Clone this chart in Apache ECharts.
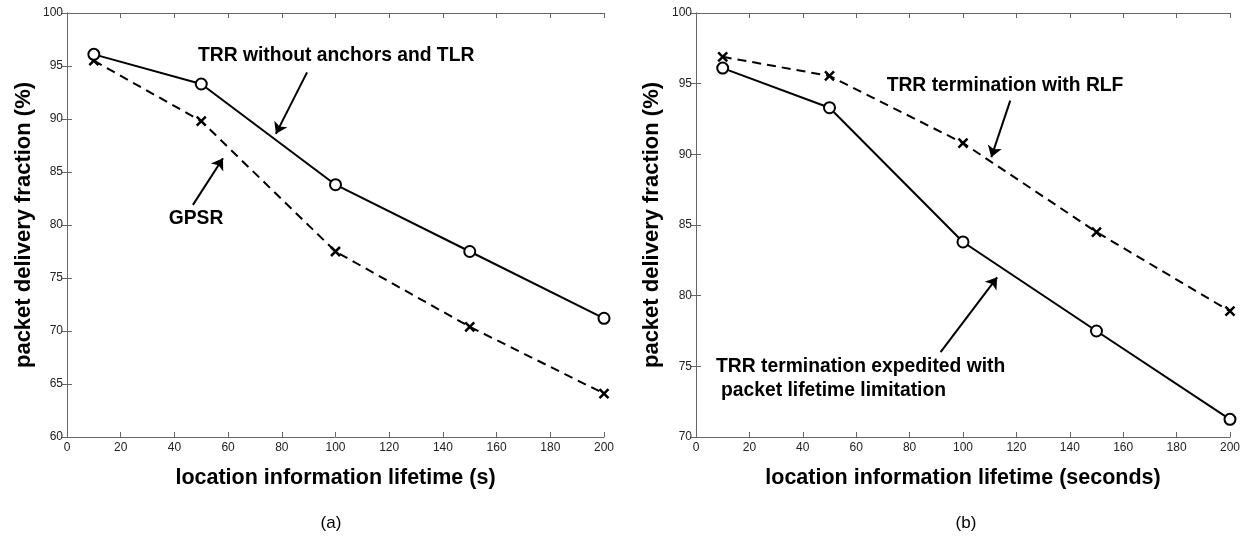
<!DOCTYPE html>
<html lang="en">
<head>
    <meta charset="UTF-8">
    <title>packet delivery fraction</title>
    <script src="https://cdn.jsdelivr.net/npm/echarts@6/dist/echarts.min.js"></script>
    <style>
        html, body { margin: 0; padding: 0; background: #fff; }
        #chart { width: 1243px; height: 539px; }
    </style>
</head>
<body>
<div id="chart"></div>
<script>
    // data
    var lifetimes = [10, 50, 100, 150, 200];
    var trrNoAnchors = [96.1, 93.3, 83.8, 77.5, 71.2];   // (a) solid, circles
    var gpsr = [95.5, 89.8, 77.5, 70.4, 64.1];           // (a) dashed, crosses
    var trrExpedited = [96.1, 93.3, 83.8, 77.5, 71.25];  // (b) solid, circles
    var trrRlf = [96.9, 95.55, 90.8, 84.5, 78.9];        // (b) dashed, crosses

    // annotation arrows, in data coordinates [from, to]
    var arrowsA = [[[89.4, 94.4], [77.8, 88.6]], [[46.9, 81.9], [58.1, 86.3]]];
    var arrowsB = [[[117.7, 93.8], [110.6, 89.8]], [[91.6, 76.0], [112.8, 81.3]]];

    var FONT = '"Liberation Sans", Arial, Helvetica, sans-serif';
    var crossPath = 'path://M0,0L10,10M10,0L0,10';

    function pairs(xs, ys) {
        return xs.map(function (x, i) { return [x, ys[i]]; });
    }

    function arrowLines(list) {
        return {
            silent: true,
            symbol: ['none', 'arrow'],
            symbolSize: 11,
            label: { show: false },
            lineStyle: { color: '#000', width: 2, type: 'solid' },
            data: list.map(function (a) {
                return [{ coord: a[0] }, { coord: a[1] }];
            })
        };
    }

    function xAxes(gridIndex, name) {
        return [
            {
                gridIndex: gridIndex, type: 'value', min: 0, max: 200, interval: 20,
                name: name, nameLocation: 'middle', nameGap: 30,
                nameTextStyle: { fontFamily: FONT, fontWeight: 'bold', fontSize: 21.5, color: '#000' },
                axisLine: { lineStyle: { color: '#666', width: 1 } },
                axisTick: { inside: true, length: 5, lineStyle: { color: '#666' } },
                axisLabel: { fontFamily: FONT, fontSize: 12, color: '#222', margin: 5 },
                splitLine: { show: false }
            },
            {
                gridIndex: gridIndex, type: 'value', position: 'top', min: 0, max: 200, interval: 20,
                axisLine: { lineStyle: { color: '#666', width: 1 } },
                axisTick: { inside: true, length: 5, lineStyle: { color: '#666' } },
                axisLabel: { show: false },
                splitLine: { show: false }
            }
        ];
    }

    function yAxes(gridIndex, min, gap) {
        return [
            {
                gridIndex: gridIndex, type: 'value', min: min, max: 100, interval: 5,
                name: 'packet delivery fraction (%)', nameLocation: 'middle', nameGap: gap,
                nameTextStyle: { fontFamily: FONT, fontWeight: 'bold', fontSize: 22, color: '#000' },
                axisLine: { show: true, lineStyle: { color: '#666', width: 1 } },
                axisTick: { show: true, inside: true, length: 5, lineStyle: { color: '#666' } },
                axisLabel: { fontFamily: FONT, fontSize: 12, color: '#222', margin: 4 },
                splitLine: { show: false }
            },
            {
                gridIndex: gridIndex, type: 'value', position: 'right', min: min, max: 100, interval: 5,
                axisLine: { show: true, lineStyle: { color: '#666', width: 1 } },
                axisTick: { show: true, inside: true, length: 5, lineStyle: { color: '#666' } },
                axisLabel: { show: false },
                splitLine: { show: false }
            }
        ];
    }

    function solid(xi, yi, ys, arrows) {
        return {
            type: 'line', xAxisIndex: xi, yAxisIndex: yi,
            data: pairs(lifetimes, ys),
            symbol: 'emptyCircle', symbolSize: 11, showAllSymbol: true,
            lineStyle: { color: '#000', width: 2, type: 'solid' },
            itemStyle: { color: '#000', borderColor: '#000', borderWidth: 2 },
            markLine: arrowLines(arrows),
            z: 3, animation: false
        };
    }

    function dashed(xi, yi, ys) {
        return {
            type: 'line', xAxisIndex: xi, yAxisIndex: yi,
            data: pairs(lifetimes, ys),
            symbol: crossPath, symbolSize: 9, showAllSymbol: true,
            lineStyle: { color: '#000', width: 2, type: [9, 6] },
            itemStyle: { color: '#000', borderColor: '#000', borderWidth: 2.5 },
            z: 2, animation: false
        };
    }

    function text(x, y, s, align, size, weight) {
        return {
            type: 'text', x: x, y: y, silent: true,
            style: {
                text: s, fill: '#000', align: align, verticalAlign: 'middle',
                font: (weight || 'bold') + ' ' + (size || 19.3) + 'px ' + FONT
            }
        };
    }

    var chart = echarts.init(document.getElementById('chart'), null, { renderer: 'canvas' });

    var options = {
        animation: false,
        grid: [
            { left: 67, top: 13, width: 537, height: 424 },
            { left: 696, top: 13, width: 537, height: 424 }
        ],
        xAxis: xAxes(0, 'location information lifetime (s)')
            .concat(xAxes(1, 'location information lifetime (seconds)')),
        yAxis: yAxes(0, 60, 32).concat(yAxes(1, 70, 33)),
        series: [
            solid(0, 0, trrNoAnchors, arrowsA),
            dashed(0, 0, gpsr),
            solid(2, 2, trrExpedited, arrowsB),
            dashed(2, 2, trrRlf)
        ],
        graphic: [
            text(198, 56, 'TRR without anchors and TLR', 'left'),
            text(196, 219, 'GPSR', 'center'),
            text(1005, 86, 'TRR termination with RLF', 'center'),
            text(716, 367, 'TRR termination expedited with', 'left'),
            text(721, 391, 'packet lifetime limitation', 'left'),
            text(331, 523, '(a)', 'center', 17, 'normal'),
            text(966, 523, '(b)', 'center', 17, 'normal')
        ]
    };

    chart.setOption(options);
</script>
</body>
</html>
